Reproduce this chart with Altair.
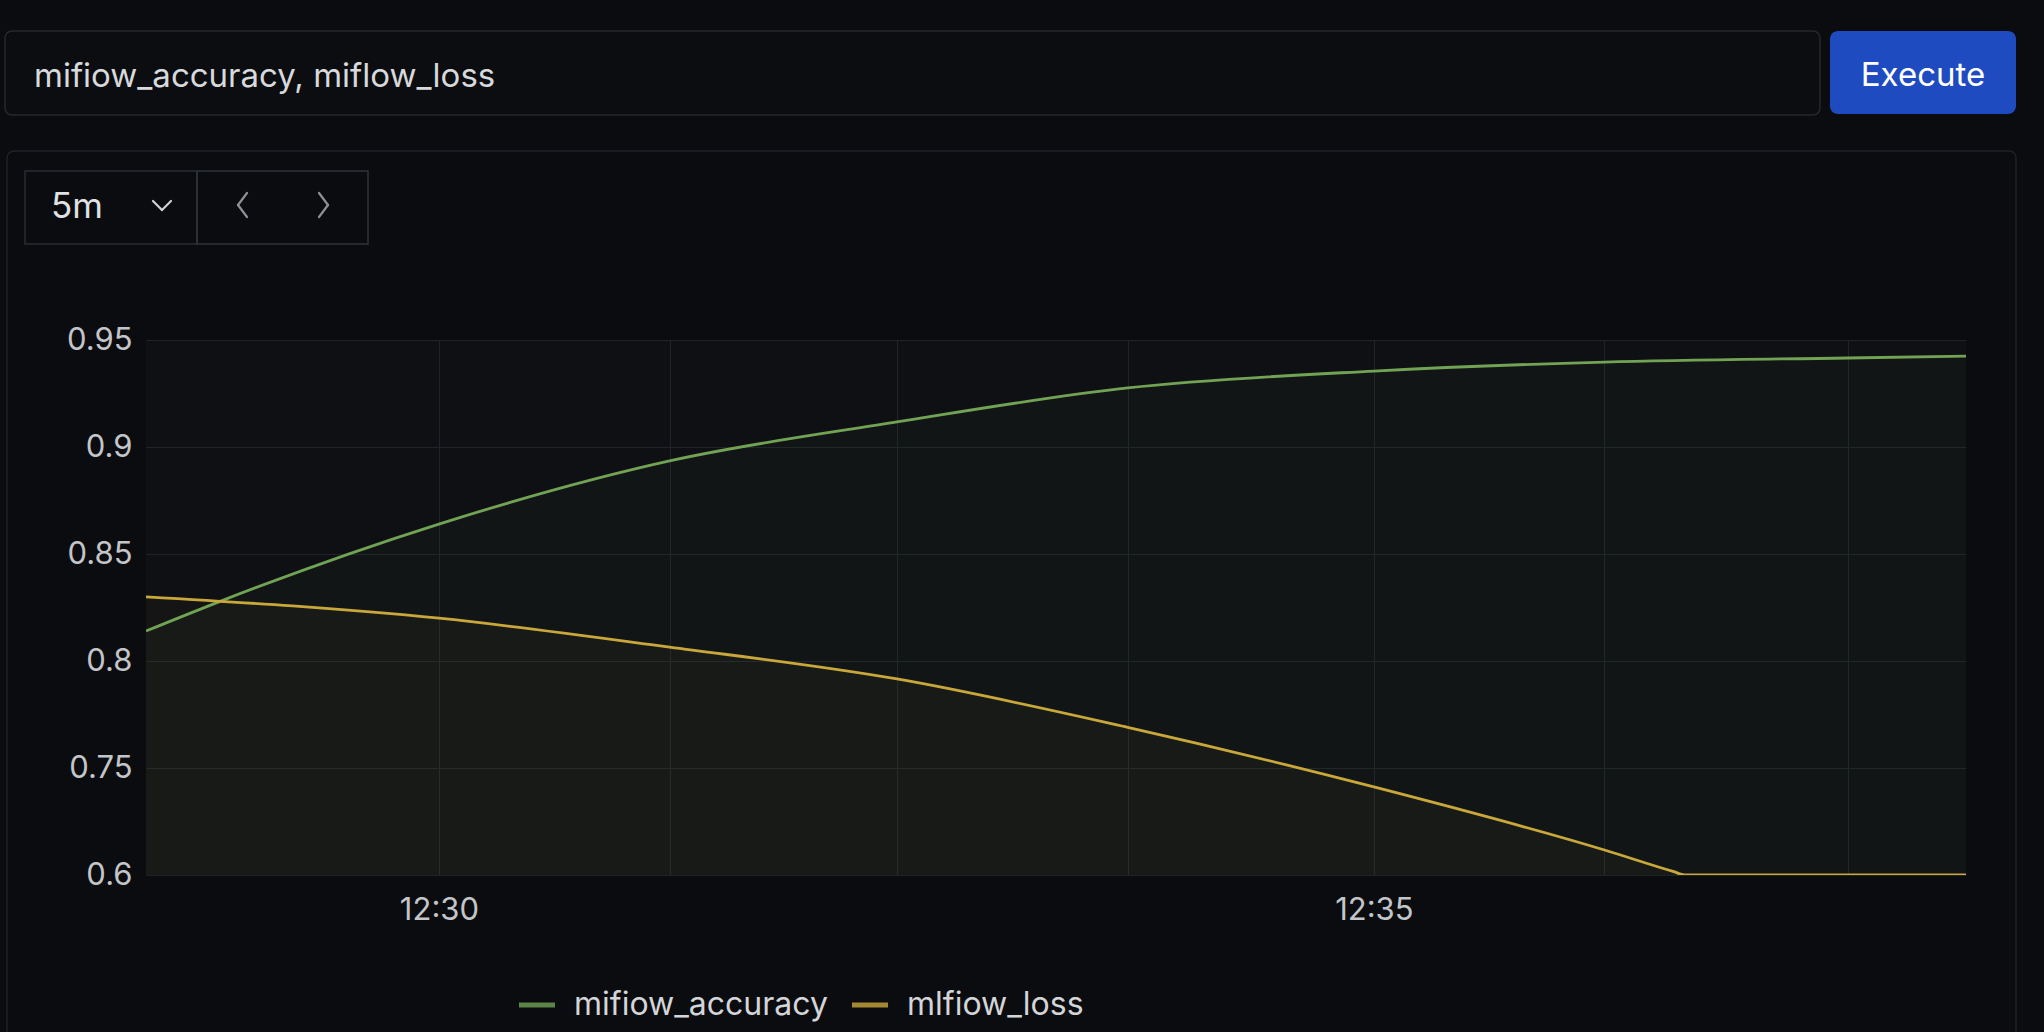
import altair as alt
import pandas as pd

# ---------------- data ----------------
DATE = "2024-01-01"
series_names = ["mifiow_accuracy", "mlfiow_loss"]
series_colors = ["#72a355", "#c9a83b"]

acc_times = ["12:28:26", "12:28:50", "12:30:00", "12:31:14", "12:32:27", "12:33:41",
             "12:35:00", "12:36:14", "12:37:32", "12:38:10"]
acc_values = [0.814, 0.828, 0.864, 0.8935, 0.9117, 0.9276,
              0.9355, 0.9397, 0.9416, 0.9425]

loss_times = ["12:28:26", "12:30:00", "12:31:14", "12:32:27", "12:33:41", "12:35:00",
              "12:36:14", "12:36:36", "12:36:40", "12:38:10"]
loss_values = [0.830, 0.820, 0.8065, 0.7916, 0.769, 0.7234,
               0.635, 0.605, 0.600, 0.600]

y_ticks = [0.6, 0.75, 0.8, 0.85, 0.9, 0.95]
x_grid_times = ["12:30:00", "12:31:14", "12:32:27", "12:33:41", "12:35:00", "12:36:14", "12:37:32"]
x_domain_times = ["12:28:26", "12:38:10"]

query_text = "mifiow_accuracy, miflow_loss"
button_text = "Execute"
range_text = "5m"


def ms(t):
    return int(pd.Timestamp(f"{DATE} {t}", tz="UTC").value // 10**6)


acc_df = pd.DataFrame({"time": [ms(t) for t in acc_times], "value": acc_values,
                       "series": series_names[0]})
loss_df = pd.DataFrame({"time": [ms(t) for t in loss_times], "value": loss_values,
                        "series": series_names[1]})

# ---------------- layout ----------------
W, H = 1820, 535
OX, OY = 146, 340  # plot origin on the page
FONT = "Inter"
one = pd.DataFrame({"k": [0]})

y_range = [H - i * H / (len(y_ticks) - 1) for i in range(len(y_ticks))]

x_scale = alt.Scale(type="utc", domain=[ms(x_domain_times[0]), ms(x_domain_times[1])], nice=False)
y_scale = alt.Scale(domain=y_ticks, range=y_range, zero=False, nice=False)

x_enc = alt.X("time:T", scale=x_scale, title=None,
              axis=alt.Axis(values=[ms(t) for t in x_grid_times],
                            labelExpr="utcminutes(datum.value) % 5 == 0 && utcseconds(datum.value) == 0 ? utcFormat(datum.value, '%H:%M') : ''",
                            domain=False, ticks=False, labelFontSize=31, labelFont=FONT,
                            labelColor="#c3c5c9", labelPadding=20, labelOverlap=False,
                            labelFlush=False, gridColor="#202328", gridWidth=1))
y_enc = alt.Y("value:Q", scale=y_scale, title=None,
              axis=alt.Axis(values=y_ticks, format="~g", domain=False, ticks=False,
                            labelFontSize=31, labelFont=FONT, labelColor="#c3c5c9",
                            labelPadding=14, gridColor="#202328", gridWidth=1))


def rect(x1, x2, y1, y2, **kw):
    return alt.Chart(one).mark_rect(**kw).encode(
        x=alt.value(x1 - OX), x2=alt.value(x2 - OX),
        y=alt.value(y1 - OY), y2=alt.value(y2 - OY))


def seg(x1, y1, x2, y2, color, w=2.2):
    return alt.Chart(one).mark_rule(color=color, strokeWidth=w, strokeCap="round").encode(
        x=alt.value(x1 - OX), x2=alt.value(x2 - OX),
        y=alt.value(y1 - OY), y2=alt.value(y2 - OY))


def text(s, x, y, align="left", size=33, color="#d8d9dc"):
    return alt.Chart(pd.DataFrame({"t": [s]})).mark_text(
        align=align, baseline="middle", fontSize=size, font=FONT, color=color
    ).encode(text="t:N", x=alt.value(x - OX), y=alt.value(y - OY))


chrome = [
    rect(5, 1820, 31, 115, fill="#0b0d10", stroke="#25282d", strokeWidth=1.5, cornerRadius=7),
    rect(1830, 2016, 31, 114, fill="#1f4bc1", cornerRadius=8),
    rect(7, 2016, 151, 1060, fillOpacity=0, stroke="#1f2227", strokeWidth=1.5, cornerRadius=7),
    rect(25, 197, 171, 244, fillOpacity=0, stroke="#2a2d32", strokeWidth=1.5),
    rect(197, 368, 171, 244, fillOpacity=0, stroke="#2f3237", strokeWidth=1.5),
    text(query_text, 34, 77),
    text(button_text, 1923, 76, align="center", color="#ffffff"),
    text(range_text, 51, 207, size=35, color="#e0e1e3"),
    seg(153, 201, 162, 210, "#d0d1d4"), seg(162, 210, 171, 201, "#d0d1d4"),
    seg(247, 193, 238, 205, "#8d9095"), seg(238, 205, 247, 217, "#8d9095"),
    seg(319, 193, 328, 205, "#8d9095"), seg(328, 205, 319, 217, "#8d9095"),
]

areas = [
    alt.Chart(d).mark_area(color=col, opacity=0.035, interpolate="monotone", clip=True)
    .encode(x=x_enc, y=y_enc, y2=alt.value(H))
    for d, col in [(acc_df, series_colors[0]), (loss_df, series_colors[1])]
]

color_enc = alt.Color("series:N",
                      scale=alt.Scale(domain=series_names, range=series_colors),
                      legend=alt.Legend(orient="none", legendX=370, legendY=644,
                                        direction="horizontal", title=None,
                                        symbolType="stroke", symbolStrokeWidth=5,
                                        symbolSize=1300, symbolOpacity=0.8,
                                        labelFontSize=32, labelFont=FONT,
                                        labelColor="#d4d5d8", labelOffset=16,
                                        labelLimit=500, columnPadding=13, padding=0))

acc_line = alt.Chart(acc_df).mark_line(strokeWidth=2.8, interpolate="monotone", clip=True).encode(
    x=x_enc, y=y_enc, color=color_enc)
loss_line = alt.Chart(loss_df).mark_line(strokeWidth=2.8, interpolate="monotone", clip=True).encode(
    x=x_enc, y=y_enc, color=color_enc)

chart = alt.layer(*chrome, *areas, acc_line, loss_line).properties(
    width=W, height=H,
    autosize=alt.AutoSizeParams(type="none"),
    padding={"left": OX, "top": OY, "right": 2044 - OX - W, "bottom": 1032 - OY - H},
).configure(background="#0a0c0f").configure_view(fill="#0e1013", strokeWidth=0)

chart.save("out.html", embed_options={"renderer": "svg", "actions": False})
